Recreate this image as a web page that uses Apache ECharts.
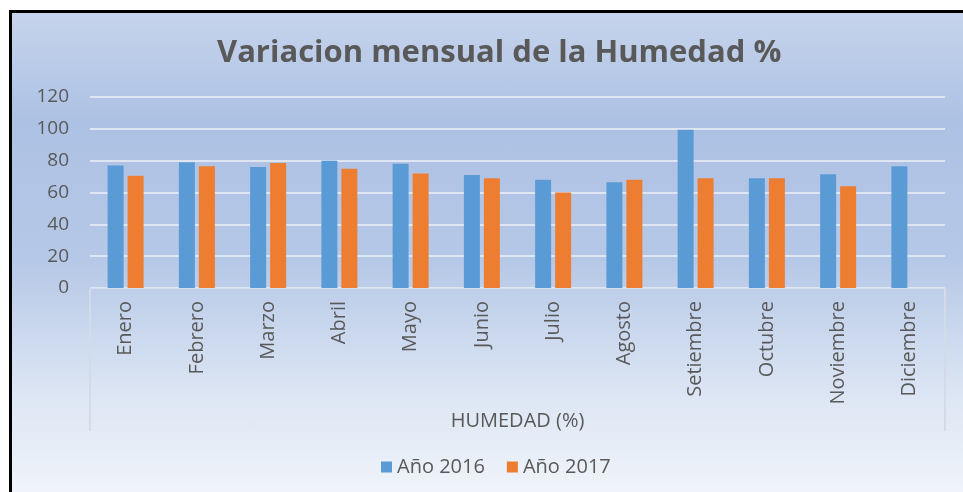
<!DOCTYPE html>
<html>
<head>
<meta charset="utf-8">
<script src="https://cdn.jsdelivr.net/npm/echarts@6/dist/echarts.min.js"></script>
<style>
  html, body { margin: 0; padding: 0; background: #ffffff; }
  #wrap { position: relative; width: 963px; height: 492px; overflow: hidden; }
  #frame {
    position: absolute; left: 9px; top: 10px; width: 980px; height: 500px;
    border: 3px solid #000000; box-sizing: border-box;
    background: linear-gradient(to bottom, #c6d4ec 0%, #adc1e4 22%, #b6c8e7 50%, #dde6f4 78%, #f3f6fb 100%);
  }
  #chart { position: absolute; left: 0; top: 0; width: 963px; height: 492px; }
</style>
</head>
<body>
<div id="wrap">
  <div id="frame"></div>
  <div id="chart"></div>
</div>
<script>
const months = ['Enero', 'Febrero', 'Marzo', 'Abril', 'Mayo', 'Junio', 'Julio',
  'Agosto', 'Setiembre', 'Octubre', 'Noviembre', 'Diciembre'];
const hum2016 = [77, 79, 76, 80, 78, 71, 68, 66.5, 99.5, 69, 71.5, 76.5];
const hum2017 = [70.5, 76.5, 78.5, 75, 72, 69, 60, 68, 69, 69, 64, null];
const yTicks = { min: 0, max: 120, interval: 20 };
const axisGroup = ['HUMEDAD (%)'];

const textColor = '#595959';
const font = '"Open Sans", "Noto Sans", sans-serif';

const chart = echarts.init(document.getElementById('chart'));
const option = {
  backgroundColor: 'transparent',
  animation: false,
  title: {
    text: 'Variacion mensual de la Humedad %',
    left: 212,
    top: 33,
    textStyle: { color: textColor, fontSize: 31, fontWeight: 'bold', fontFamily: font }
  },
  legend: {
    bottom: 10,
    left: 376,
    itemWidth: 11,
    itemHeight: 11,
    itemGap: 22,
    icon: 'rect',
    textStyle: { color: textColor, fontSize: 20, fontFamily: font }
  },
  grid: { left: 90, right: 18, top: 97, bottom: 204 },
  xAxis: [{
    type: 'category',
    data: months,
    axisLine: { lineStyle: { color: '#d6dfee', width: 1 } },
    axisTick: { show: false },
    axisLabel: { rotate: 90, margin: 13, color: textColor, fontSize: 20, fontFamily: font }
  }, {
    type: 'category',
    data: axisGroup,
    position: 'bottom',
    axisLine: { show: false },
    axisTick: { show: true, length: 143, lineStyle: { color: '#d3dbe8', width: 2 } },
    axisLabel: { margin: 123, color: textColor, fontSize: 20, fontFamily: font, verticalAlign: 'top' }
  }],
  yAxis: {
    type: 'value',
    min: yTicks.min,
    max: yTicks.max,
    interval: yTicks.interval,
    axisLine: { show: false },
    axisTick: { show: false },
    axisLabel: { margin: 21, color: textColor, fontSize: 19, fontFamily: font },
    splitLine: { lineStyle: { color: '#dfe6f2', width: 2 } }
  },
  series: [{
    name: 'Año 2016',
    type: 'bar',
    data: hum2016,
    barWidth: 16,
    barGap: '25%',
    itemStyle: { color: '#5b9bd5' }
  }, {
    name: 'Año 2017',
    type: 'bar',
    data: hum2017,
    barWidth: 16,
    barGap: '25%',
    itemStyle: { color: '#ed7d31' }
  }]
};
chart.setOption(option);
</script>
</body>
</html>
